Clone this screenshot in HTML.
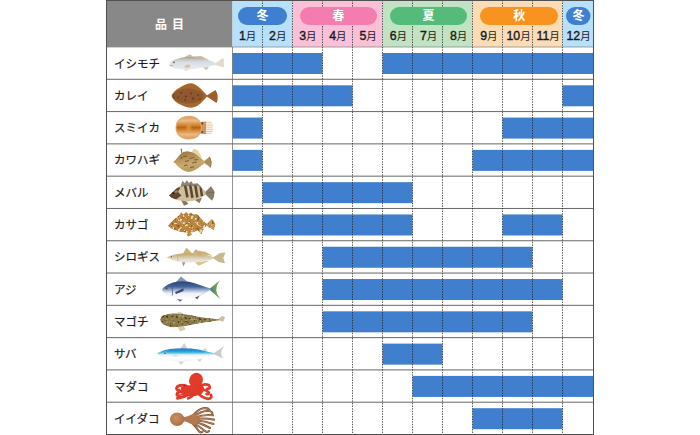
<!DOCTYPE html>
<html><head><meta charset="utf-8"><title>chart</title>
<style>html,body{margin:0;padding:0;background:#fff;font-family:"Liberation Sans",sans-serif}svg{display:block}</style>
</head><body>
<svg width="700" height="435" viewBox="0 0 700 435">
<defs>
<filter id="bl" x="-5%" y="-20%" width="110%" height="140%"><feGaussianBlur stdDeviation="0.35"/></filter>
<filter id="bl2" x="-5%" y="-20%" width="110%" height="140%"><feGaussianBlur stdDeviation="0.6"/></filter>
<linearGradient id="g1" x1="0" y1="0" x2="0" y2="1"><stop offset="0" stop-color="#a89e8c"/><stop offset="0.2" stop-color="#c6c4c0"/><stop offset="0.45" stop-color="#d9dee7"/><stop offset="1" stop-color="#e8eaf0"/></linearGradient>
<linearGradient id="g3" x1="0" y1="0" x2="0" y2="1"><stop offset="0" stop-color="#d9985a"/><stop offset="0.2" stop-color="#ecba84"/><stop offset="0.4" stop-color="#cf832f"/><stop offset="0.5" stop-color="#b8600f"/><stop offset="0.6" stop-color="#cf832f"/><stop offset="0.8" stop-color="#ecba84"/><stop offset="1" stop-color="#d9985a"/></linearGradient>
<radialGradient id="g3b" cx="0.5" cy="0.5" r="0.5"><stop offset="0" stop-color="#e2a04c" stop-opacity="0.85"/><stop offset="0.7" stop-color="#e2a04c" stop-opacity="0"/></radialGradient>
<linearGradient id="g4" x1="0" y1="0" x2="0.25" y2="1"><stop offset="0" stop-color="#94733f"/><stop offset="0.35" stop-color="#b18d54"/><stop offset="0.7" stop-color="#c9aa6e"/><stop offset="1" stop-color="#b89a5c"/></linearGradient>
<linearGradient id="g7" x1="0" y1="0" x2="0" y2="1"><stop offset="0" stop-color="#c2a060"/><stop offset="0.4" stop-color="#d4c4a0"/><stop offset="0.7" stop-color="#e4e0d6"/><stop offset="1" stop-color="#ece9e2"/></linearGradient>
<linearGradient id="g8" x1="0" y1="0" x2="0" y2="1"><stop offset="0" stop-color="#2b4378"/><stop offset="0.3" stop-color="#456499"/><stop offset="0.5" stop-color="#a8b8d6"/><stop offset="0.66" stop-color="#eef1f7"/><stop offset="1" stop-color="#ffffff"/></linearGradient>
<linearGradient id="g8t" x1="0" y1="0" x2="1" y2="0"><stop offset="0" stop-color="#4a6e90"/><stop offset="0.45" stop-color="#5f9a5a"/><stop offset="1" stop-color="#86b03a"/></linearGradient>
<linearGradient id="g10" x1="0" y1="0" x2="0" y2="1"><stop offset="0" stop-color="#2480cc"/><stop offset="0.2" stop-color="#2b9bdc"/><stop offset="0.36" stop-color="#5fcbe8"/><stop offset="0.48" stop-color="#e4f3fa"/><stop offset="0.7" stop-color="#ffffff"/><stop offset="1" stop-color="#f1f1f4"/></linearGradient>
<radialGradient id="g12" cx="0.4" cy="0.4" r="0.7"><stop offset="0" stop-color="#c98e60"/><stop offset="1" stop-color="#aa6c44"/></radialGradient>
<clipPath id="c5"><path d="M169 195.5L176 189Q179 186 183 185.3L192 184.5Q198 185 201 187.5L205.5 191.5L205.5 195L198 199Q192 201.5 188 201.5L178 200.3L172 198Z"/></clipPath>
<clipPath id="c6"><path d="M167.5 226L174 219Q178 215 182 214.5L192 214Q198 215.5 201 218.5L206.5 223.5V226.5L199 230.3Q193 233 189 233L180 232L172 229Z"/></clipPath>
<clipPath id="c9"><path d="M160 320Q160.500 316.500 164 315Q169 313 174 313.200L186 314.300L200 317L219 319.200V320.500L200 323.200L186 326Q176 327.500 170 327Q162 325.500 160 320Z"/></clipPath>
<filter id="mot6" x="-5%" y="-10%" width="110%" height="120%" color-interpolation-filters="sRGB">
<feTurbulence type="fractalNoise" baseFrequency="0.36" numOctaves="2" seed="7" result="n"/>
<feColorMatrix in="n" type="matrix" values="0 0 0 0 0.93  0 0 0 0 0.87  0 0 0 0 0.72  8 0 0 0 -4.5" result="lt"/>
<feColorMatrix in="n" type="matrix" values="0 0 0 0 0.55  0 0 0 0 0.36  0 0 0 0 0.16  0 -7 0 0 2.9" result="dk"/>
<feMerge result="m"><feMergeNode in="SourceGraphic"/><feMergeNode in="dk"/><feMergeNode in="lt"/></feMerge>
<feComposite in="m" in2="SourceGraphic" operator="in" result="c"/>
<feGaussianBlur in="c" stdDeviation="0.35"/>
</filter>
<filter id="mot9" x="-5%" y="-10%" width="110%" height="120%" color-interpolation-filters="sRGB">
<feTurbulence type="fractalNoise" baseFrequency="0.33" numOctaves="2" seed="9" result="n"/>
<feColorMatrix in="n" type="matrix" values="0 0 0 0 0.68  0 0 0 0 0.62  0 0 0 0 0.40  5 0 0 0 -2.7" result="lt"/>
<feColorMatrix in="n" type="matrix" values="0 0 0 0 0.30  0 0 0 0 0.24  0 0 0 0 0.12  0 -6 0 0 2.6" result="dk"/>
<feMerge result="m"><feMergeNode in="SourceGraphic"/><feMergeNode in="dk"/><feMergeNode in="lt"/></feMerge>
<feComposite in="m" in2="SourceGraphic" operator="in" result="c"/>
<feGaussianBlur in="c" stdDeviation="0.35"/>
</filter>
</defs>

<rect width="700" height="435" fill="#fff"/>
<rect x="106" y="0" width="126.5" height="47.0" fill="#888"/>
<rect x="232.5" y="0" width="60.0" height="47.0" fill="#b7e1fa"/>
<rect x="292.5" y="0" width="90.0" height="47.0" fill="#f9c0d7"/>
<rect x="382.5" y="0" width="90.0" height="47.0" fill="#bfe3c3"/>
<rect x="472.5" y="0" width="90.0" height="47.0" fill="#fcdcb5"/>
<rect x="562.5" y="0" width="31.0" height="47.0" fill="#b7e1fa"/>
<rect x="232.5" y="53.00" width="90.0" height="21" fill="#3f7fce"/>
<rect x="382.5" y="53.00" width="211.0" height="21" fill="#3f7fce"/>
<rect x="232.5" y="85.29" width="120.0" height="21" fill="#3f7fce"/>
<rect x="562.5" y="85.29" width="31.0" height="21" fill="#3f7fce"/>
<rect x="232.5" y="117.58" width="30.0" height="21" fill="#3f7fce"/>
<rect x="502.5" y="117.58" width="91.0" height="21" fill="#3f7fce"/>
<rect x="232.5" y="149.88" width="30.0" height="21" fill="#3f7fce"/>
<rect x="472.5" y="149.88" width="121.0" height="21" fill="#3f7fce"/>
<rect x="262.5" y="182.17" width="150.0" height="21" fill="#3f7fce"/>
<rect x="262.5" y="214.46" width="150.0" height="21" fill="#3f7fce"/>
<rect x="502.5" y="214.46" width="60.0" height="21" fill="#3f7fce"/>
<rect x="322.5" y="246.75" width="210.0" height="21" fill="#3f7fce"/>
<rect x="322.5" y="279.04" width="240.0" height="21" fill="#3f7fce"/>
<rect x="322.5" y="311.33" width="210.0" height="21" fill="#3f7fce"/>
<rect x="382.5" y="343.62" width="60.0" height="21" fill="#3f7fce"/>
<rect x="412.5" y="375.92" width="181.0" height="21" fill="#3f7fce"/>
<rect x="472.5" y="408.21" width="90.0" height="21" fill="#3f7fce"/>
<path d="M106 79.29H593.5M106 111.58H593.5M106 143.88H593.5M106 176.17H593.5M106 208.46H593.5M106 240.75H593.5M106 273.04H593.5M106 305.33H593.5M106 337.62H593.5M106 369.92H593.5M106 402.21H593.5" stroke="#3f3f3f" stroke-width="0.8" fill="none"/>
<path d="M106 47.0H593.5" stroke="#8c8c8c" stroke-width="0.8" fill="none"/>
<path d="M232.5 47V435" stroke="#666" stroke-width="0.7" fill="none"/>
<path d="M262.5 0V435M292.5 0V435M322.5 0V435M352.5 0V435M382.5 0V435M412.5 0V435M442.5 0V435M472.5 0V435M502.5 0V435M532.5 0V435M562.5 0V435" stroke="#1c1c1c" stroke-opacity="0.82" stroke-width="0.9" stroke-dasharray="1.4 1.2" fill="none"/>
<rect x="238" y="7" width="49" height="18" rx="9" ry="9" fill="#3e7fcf"/>
<text x="262.6" y="20.4" font-size="12" font-weight="bold" fill="#fff" text-anchor="middle" font-family="&quot;Liberation Sans&quot;, &quot;Noto Sans CJK JP&quot;, sans-serif">冬</text>
<rect x="300" y="7" width="77" height="18" rx="9" ry="9" fill="#f57cae"/>
<text x="338.5" y="20.4" font-size="12" font-weight="bold" fill="#fff" text-anchor="middle" font-family="&quot;Liberation Sans&quot;, &quot;Noto Sans CJK JP&quot;, sans-serif">春</text>
<rect x="390" y="7" width="77" height="18" rx="9" ry="9" fill="#55bb7b"/>
<text x="428.5" y="20.4" font-size="12" font-weight="bold" fill="#fff" text-anchor="middle" font-family="&quot;Liberation Sans&quot;, &quot;Noto Sans CJK JP&quot;, sans-serif">夏</text>
<rect x="480" y="7" width="78" height="18" rx="9" ry="9" fill="#f7931e"/>
<text x="519.3" y="20.4" font-size="12" font-weight="bold" fill="#fff" text-anchor="middle" font-family="&quot;Liberation Sans&quot;, &quot;Noto Sans CJK JP&quot;, sans-serif">秋</text>
<rect x="566" y="7" width="24.5" height="18" rx="9" ry="9" fill="#3e7fcf"/>
<text x="578.4" y="20.4" font-size="12" font-weight="bold" fill="#fff" text-anchor="middle" font-family="&quot;Liberation Sans&quot;, &quot;Noto Sans CJK JP&quot;, sans-serif">冬</text>
<rect x="106.5" y="0.5" width="487.0" height="434" fill="none" stroke="#505050" stroke-width="1"/>
<g font-size="12" font-weight="bold" fill="#fff" text-anchor="middle" font-family="&quot;Liberation Sans&quot;, &quot;Noto Sans CJK JP&quot;, sans-serif">
<text x="161" y="28.8">品</text>
<text x="178" y="28.8">目</text>
</g>
<g fill="#1a1a1a" font-size="12.3" font-family="&quot;Liberation Sans&quot;, &quot;Noto Sans CJK JP&quot;, sans-serif">
<text x="239" y="40"><tspan stroke="#1a1a1a" stroke-width="0.4">1</tspan><tspan font-size="10.5">月</tspan></text>
<text x="269.1" y="40"><tspan stroke="#1a1a1a" stroke-width="0.4">2</tspan><tspan font-size="10.5">月</tspan></text>
<text x="299.2" y="40"><tspan stroke="#1a1a1a" stroke-width="0.4">3</tspan><tspan font-size="10.5">月</tspan></text>
<text x="329.2" y="40"><tspan stroke="#1a1a1a" stroke-width="0.4">4</tspan><tspan font-size="10.5">月</tspan></text>
<text x="359.5" y="40"><tspan stroke="#1a1a1a" stroke-width="0.4">5</tspan><tspan font-size="10.5">月</tspan></text>
<text x="389.7" y="40"><tspan stroke="#1a1a1a" stroke-width="0.4">6</tspan><tspan font-size="10.5">月</tspan></text>
<text x="419.9" y="40"><tspan stroke="#1a1a1a" stroke-width="0.4">7</tspan><tspan font-size="10.5">月</tspan></text>
<text x="450" y="40"><tspan stroke="#1a1a1a" stroke-width="0.4">8</tspan><tspan font-size="10.5">月</tspan></text>
<text x="480.2" y="40"><tspan stroke="#1a1a1a" stroke-width="0.4">9</tspan><tspan font-size="10.5">月</tspan></text>
<text x="506.5" y="40"><tspan stroke="#1a1a1a" stroke-width="0.4">10</tspan><tspan font-size="10.5">月</tspan></text>
<text x="536.5" y="40"><tspan stroke="#1a1a1a" stroke-width="0.4">11</tspan><tspan font-size="10.5">月</tspan></text>
<text x="566.5" y="40"><tspan stroke="#1a1a1a" stroke-width="0.4">12</tspan><tspan font-size="10.5">月</tspan></text>
</g>
<g fill="#1a1a1a" stroke="#1a1a1a" stroke-width="0.2" font-size="11.5" font-family="&quot;Liberation Sans&quot;, &quot;Noto Sans CJK JP&quot;, sans-serif">
<text x="114" y="67.5">イシモチ</text>
<text x="114" y="99.8">カレイ</text>
<text x="114" y="132.1">スミイカ</text>
<text x="114" y="164.4">カワハギ</text>
<text x="114" y="196.7">メバル</text>
<text x="114" y="229">カサゴ</text>
<text x="114" y="261.3">シロギス</text>
<text x="114" y="293.6">アジ</text>
<text x="114" y="325.9">マゴチ</text>
<text x="114" y="358.2">サバ</text>
<text x="114" y="390.5">マダコ</text>
<text x="114" y="422.7">イイダコ</text>
</g>
<!-- 1 ishimochi -->
<g filter="url(#bl)">
<path d="M184 57.300L190 54.300L193 56.500L201 56L209 60Z" fill="#c8bba6"/>
<path d="M215 63.400L222.500 58.300Q224.500 58.500 223.800 62.500L224 67.300L215 65Z" fill="#ddd2c0" opacity="0.85"/>
<path d="M169 64.200Q171 61 176 59.300Q181 57.300 186 57Q193 56.600 199 57.800Q208 60 216 62.800V64.800Q206 67.300 197 68.500Q188 69.700 180 69.200Q174 68.600 171 66.800Z" fill="url(#g1)"/>
<ellipse cx="187.500" cy="66.300" rx="3" ry="1.500" fill="#d6c3a2" transform="rotate(-8 187.500 66.300)"/>
<path d="M203 67.500L206.500 70.200L209 66.800Z" fill="#d2c4a8"/>
<path d="M183 69L186 70.800L190 69.200Z" fill="#e2dcd0"/>
<circle cx="174" cy="62.400" r="0.800" fill="#555"/>
<path d="M169.500 65.300L173 65.800" stroke="#8a8478" stroke-width="0.500"/>
</g>
<!-- 2 karei -->
<g filter="url(#bl)">
<path d="M206 96L215.500 90Q219.500 96 216.500 103Z" fill="#9c5f28"/>
<path d="M171.500 96Q173 91.500 179 88Q186 83.500 191 83.300Q196 84 201 89Q205 93 207.500 96Q205 99 201 103Q196 107.500 191 107.700Q186 107.500 179 104Q173 100.500 171.500 96Z" fill="#a5682b"/>
<ellipse cx="188" cy="96" rx="15.500" ry="7.600" fill="#8f582d"/>
<g fill="#6a3a2c"><circle cx="181" cy="93" r="1"/><circle cx="186" cy="96.500" r="1.100"/><circle cx="191" cy="93.500" r="1"/><circle cx="185" cy="100" r="1"/><circle cx="193" cy="98.500" r="1.200"/><circle cx="198" cy="95" r="1"/><circle cx="200" cy="99" r="0.900"/><circle cx="178" cy="97.500" r="0.900"/><circle cx="173.500" cy="95" r="0.800"/><circle cx="174" cy="97.300" r="0.800"/></g>
</g>
<!-- 3 sumiika -->
<g filter="url(#bl)">
<path d="M205 122.300H211.500M205 124.100H212.500M205 125.900H213M205 127.800H212.500M205 129.700H213M205 131.500H212.500M205 133.300H211.500" stroke="#e4b58e" stroke-width="0.800"/>
<path d="M199.500 122L206 121.500V134.200L199.500 133.600Z" fill="#cf9560"/>
<path d="M176 127.700Q176.300 121 182 117.800Q188 115 194.500 117.300Q201.300 120.500 201.500 127.700Q201.300 135 194.500 138Q188 140.300 182 137.500Q176.300 134.500 176 127.700Z" fill="url(#g3)"/>
<ellipse cx="188.700" cy="127.700" rx="5.500" ry="10.500" fill="url(#g3b)"/>
<path d="M176 127.700Q176.300 121 182 117.800Q188 115 194.500 117.300Q201.300 120.500 201.500 127.700Q201.300 135 194.500 138Q188 140.300 182 137.500Q176.300 134.500 176 127.700Z" fill="none" stroke="#e0a672" stroke-width="1.100"/>
<circle cx="202.300" cy="123.400" r="1.100" fill="#5a4636"/><circle cx="202.300" cy="132" r="1.100" fill="#5a4636"/>
</g>
<!-- 4 kawahagi -->
<g filter="url(#bl)">
<path d="M191.500 152.500L193.500 148.700Q199.500 148.500 202 159.500Z" fill="#e6d7a2"/>
<path d="M187 171.500L198.500 168L201.500 163.500L192 166Z" fill="#dccb92"/>
<path d="M203 162L209.500 156.800Q212.500 162 210.500 167.500Z" fill="#b08f58"/>
<path d="M209.500 156.800Q212.500 162 210.500 167.500" stroke="#86693c" stroke-width="0.800" fill="none"/>
<path d="M182 154L181.200 148.500" stroke="#6a5232" stroke-width="0.900"/>
<path d="M174 161.800L180 154.500Q183.500 151.300 187 151.200Q193 151.500 197.500 155.500L204.500 161.300V163.300L198.500 167.800Q193 171.700 189 172Q185 171.700 181.500 169.300Q177 166.300 174 161.800Z" fill="url(#g4)"/>
<path d="M183 156.800L187 156M189.500 158.500L194.500 157.500M185 161.500L189 160.500M192 163L197 162M184 165.500L187.500 165M190 167.500L194 166.800M194 160L198 159.500" stroke="#73562f" stroke-width="0.900"/>
<circle cx="174.600" cy="162" r="0.900" fill="#e28848"/>
<circle cx="181.300" cy="157.800" r="0.700" fill="#4e3a24"/>
</g>
<!-- 5 mebaru -->
<g filter="url(#bl)">
<path d="M180.500 186L182.500 180.700L184.700 183.200L186.800 180.200L189 183L191.200 181L193 183.800L197.500 183.200L202 187.500Z" fill="#8e8272"/>
<path d="M204 193L211 186.300Q217.500 193 212 200.800Z" fill="#8a7c6c"/>
<path d="M207 193L215 192" stroke="#6c5f52" stroke-width="0.600"/>
<path d="M181 200L184 205.700L188.300 204L185.500 200Z" fill="#867766"/>
<path d="M194 199.500L199.500 203.200L202 197.800Z" fill="#8a7a68"/>
<path d="M169 195.500L176 189Q179 186 183 185.300L192 184.500Q198 185 201 187.500L205.500 191.500L205.500 195L198 199Q192 201.500 188 201.500L178 200.300L172 198Z" fill="#cfbf9a"/>
<g clip-path="url(#c5)" fill="#5e4636">
<path d="M168 196L176.500 187.500L180.500 187.500L178 192L181.500 195.500L176 199.500L168 197Z"/>
<path d="M173 192L179 189.500L176.500 193Z" fill="#a08a6a"/>
<path d="M183.500 184L186.200 184L188.700 197L186.200 197.800Z"/>
<path d="M188.700 184L191.300 184L193.700 197.600L191.200 198.200Z"/>
<path d="M193.800 184L196.500 184.500L198.600 197L196.100 197.800Z"/>
<path d="M199.200 185.500L201.700 186.500L203.200 196L200.700 196.600Z"/>
<path d="M180 184H203L205 188L200 186.300L190 185.500L181 186.500Z" fill="#7a6a58"/>
</g>
<circle cx="173.300" cy="193" r="0.900" fill="#2a2018"/>
</g>
<!-- 6 kasago -->
<g filter="url(#mot6)">
<path d="M178.500 216.500L181 212L183.500 214.200L186 211.800L188.500 214L191 212.200L193.500 214.500L197 214L201.500 218.500Z" fill="#b98a48"/>
<path d="M205 225L212 218.800Q217.500 223 214 230.500Z" fill="#c59656"/>
<path d="M185.500 232L188 237.200L192.300 234.500L190 231.500Z" fill="#c08e4c"/>
<path d="M197 230.500L201.500 234.200L204.500 228Z" fill="#c29252"/>
<path d="M167.500 226L174 219Q178 215 182 214.500L192 214Q198 215.500 201 218.500L206.500 223.500V226.500L199 230.300Q193 233 189 233L180 232L172 229Z" fill="#b9853f"/>
<circle cx="172.500" cy="223.800" r="0.800" fill="#6a4a2a"/>
</g>
<!-- 7 shirogisu -->
<g filter="url(#bl)">
<path d="M183 253.400L186 248L188 249L192 253.200Z" fill="#cdb47a"/>
<path d="M193 253.200L195.500 249L198 250.800L205 251.800L212.500 255.800Z" fill="#ccb172"/>
<path d="M212.500 257.800L220 253L225.500 252.600L223.300 258L225 263.300L219 262.300Z" fill="#c9b98c"/>
<path d="M195 262.300L198.500 265.800L209.500 260.800Z" fill="#d9c48a"/>
<path d="M182 262L183.300 266.600L185.600 262.300Z" fill="#9b9a8a"/>
<path d="M166.500 257.800Q170 255.500 175 254.500Q181 253.200 187 253Q194 253 200 253.800Q207 255 213.500 256.900V259Q208 260.800 203 261.500Q196 262.600 190 262.600Q183 262.500 178 261.500Q172 260.300 166.500 257.800Z" fill="url(#g7)"/>
<circle cx="171.500" cy="256.600" r="0.700" fill="#6a5a3a"/>
<path d="M177 255.500Q178.500 258.500 177.500 261" stroke="#b8a070" stroke-width="0.500" fill="none"/>
</g>
<!-- 8 aji -->
<g filter="url(#bl)">
<path d="M176 282L181 276.500L187.500 281.800Z" fill="#8394bd"/>
<path d="M209 289.200L220 280.300Q212.500 289.500 220.200 299Z" fill="url(#g8t)"/>
<path d="M177 299L180 301.700L183.500 299Z" fill="#5f6b80"/>
<path d="M194 297L197.500 299.300L199.500 295.500Z" fill="#4e5a70"/>
<path d="M162 289.500Q164 286.500 168 284.500Q173 282 178 281.500Q184 281 189 281.800Q195 283 200 285Q206 287.300 210.500 288.600V290Q206 292.500 203 294Q197 297 192 298.500Q186 300 180 299.500Q174 298.800 170 297Q165.500 295 163.500 292.500Z" fill="url(#g8)"/>
<path d="M175 292.300L183.500 288.300L183.500 291L176 294Z" fill="#3a4a6c"/>
<path d="M172 287.500Q173 291 172.300 295.500" stroke="#3f5078" stroke-width="0.700" fill="none"/>
<path d="M199 296L207 291.500" stroke="#8a93a8" stroke-width="0.600" stroke-dasharray="0.800 0.800"/>
<circle cx="166.500" cy="288.500" r="1" fill="#6a3a40"/>
</g>
<!-- 9 magochi -->
<g filter="url(#bl)">
<path d="M175.500 314.200L178.500 311.800L183 313L181.500 316Z" fill="#d8d0ae"/>
<path d="M177 326.300L180 331.500L185.500 329.500L183.500 325.500Z" fill="#d6ceac"/>
<path d="M217 319.800L222.500 315.800L225 317.500L223.200 321.800Z" fill="#c9c0a2"/>
</g>
<g filter="url(#mot9)">
<path d="M160 320Q160.500 316.500 164 315Q169 313 174 313.200L186 314.300L200 317L219 319.200V320.500L200 323.200L186 326Q176 327.500 170 327Q162 325.500 160 320Z" fill="#8b7a48"/>
</g>
<!-- 10 saba -->
<g filter="url(#bl)">
<path d="M180 348.700L184.300 343L187.500 348.700Z" fill="#d0d1d6"/>
<path d="M202.500 350.300L205 348L207.500 351.300Z" fill="#cfd0d4"/>
<path d="M213 353.800L224 346.300Q218.500 353.500 223.500 358.700Z" fill="#c9cbd2"/>
<path d="M178 361.300L181 364.700L184.300 361.500Z" fill="#cfcfd3"/>
<path d="M196.500 359.500L200 361.700L202.300 358.500Z" fill="#d2d2d6"/>
<path d="M157 353.500Q160 351.500 164 350.300Q170 348.800 176 348.500Q184 348.200 191 348.600Q199 349.500 205 351Q210 352.300 214.500 353.300V354.400Q210 356 205 357.500Q198 359.800 190 361Q182 362 175 361.500Q168 360.500 163 358Q159 356 157 353.500Z" fill="url(#g10)"/>
<path d="M170 349.500V352.500M173 349.200V352.500M176 349V352.500M179 349V352.500M182 349V352.500M185 349V352.500M188 349V352.500M191 349.200V352.600M194 349.500V352.700M197 350V352.900M200 350.500V353M203 351V353.200" stroke="#2268b8" stroke-width="0.500" opacity="0.600"/>
<circle cx="165" cy="353" r="1.300" fill="#e8f0f6"/><circle cx="165" cy="353" r="0.850" fill="#2a2a30"/>
<ellipse cx="175.500" cy="355.500" rx="2.500" ry="0.900" fill="#d8dce4"/>
</g>
<!-- 11 madako -->
<g filter="url(#bl)" fill="none" stroke="#e13a2a" stroke-linecap="round" stroke-linejoin="round">
<ellipse cx="196" cy="380.300" rx="6.800" ry="7.600" transform="rotate(22 196 380.300)" fill="#e13a2a" stroke="none"/>
<path d="M181 387Q192 383.500 203 386Q206 390 201 394.500Q190 398 181 395Z" fill="#e13a2a" stroke="none"/>
<path d="M189 387.500Q183 383.800 177.500 386.500Q175.300 389.500 178.800 390.300" stroke-width="3"/>
<path d="M189 390Q182 389.500 177.500 393Q175.800 396.300 180 395.800" stroke-width="3"/>
<path d="M191 393Q185 397 177.500 398.300" stroke-width="3"/>
<path d="M199 387Q204 382.800 209 385.300Q211.300 388.500 207 388.800" stroke-width="2.800"/>
<path d="M199 389.500Q206 389 209 392.500Q209.500 394.500 206.500 394" stroke-width="2.600"/>
<path d="M197 392Q201 397.500 208 398.800Q212.300 398.800 211 395" stroke-width="2.800"/>
<path d="M194 394Q192 397.500 188 398.500" stroke-width="2.400"/>
<circle cx="184.500" cy="385.500" r="0.800" fill="#9a1a1a" stroke="none"/>
<path d="M179 388.500L181 388M179.500 394L182 393.500M206 387L208 387.300" stroke="#f6b0a0" stroke-width="0.700"/>
</g>
<!-- 12 iidako -->
<g filter="url(#bl)" fill="none" stroke-linecap="round">
<path d="M193 415.500Q198 409.500 203 408.300Q208 407.500 209.500 410M194 416.500Q201 411.500 207 410.800Q212 411 212.300 413.500M195 417.500Q204 414.200 213 415.300M196 418.800Q205 417.800 214 419.600M196 420.300Q205 421.200 213.500 424M195 421.800Q203 424.200 210 428M194 423Q200 427 205 431Q207 432.800 209 431M193 424Q197 428 199 431.300Q200.500 433 202.500 431.800" stroke="#7e5232" stroke-width="2.100"/>
<path d="M193 415.500Q198 409.500 203 408.300Q208 407.500 209.500 410M194 416.500Q201 411.500 207 410.800Q212 411 212.300 413.500M195 417.500Q204 414.200 213 415.300M196 418.800Q205 417.800 214 419.600M196 420.300Q205 421.200 213.500 424M195 421.800Q203 424.200 210 428M194 423Q200 427 205 431Q207 432.800 209 431M193 424Q197 428 199 431.300Q200.500 433 202.500 431.800" stroke="#bd875a" stroke-width="0.900"/>
<path d="M183.500 417.300Q187 417 190 415.300Q193 413.300 196 413.500L199 419.300L196 425Q193 425.300 190 423.500Q187 421.800 183.500 421.300Z" fill="#b47850"/>
<ellipse cx="177.200" cy="419.300" rx="7.200" ry="6.800" fill="url(#g12)"/>
</g>

</svg>
</body></html>
